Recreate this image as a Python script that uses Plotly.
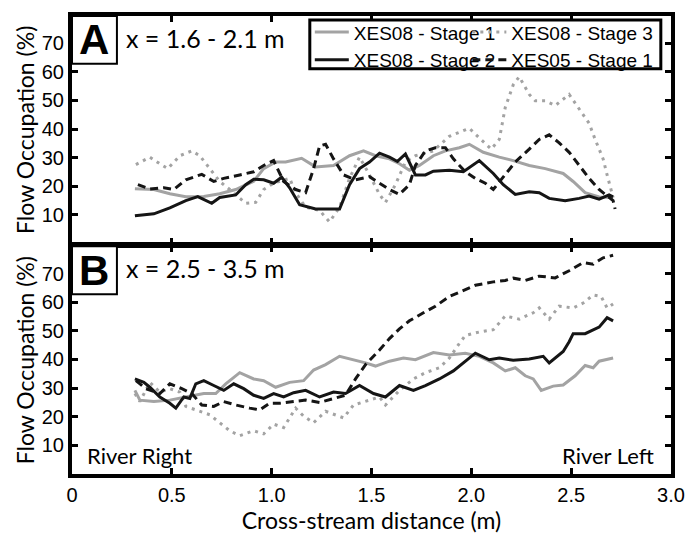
import plotly.graph_objects as go

# ---------------- data ----------------
# Panel A: x = 1.6 - 2.1 m
a_s1_x = [0.315, 0.41, 0.49, 0.57, 0.66, 0.74, 0.82, 0.91, 0.96, 1.02, 1.07, 1.15, 1.22, 1.31, 1.39, 1.46, 1.52, 1.59, 1.64, 1.69, 1.74, 1.81, 1.87, 1.94, 1.99, 2.06, 2.14, 2.21, 2.29, 2.37, 2.46, 2.51, 2.57, 2.64, 2.71]
a_s1_y = [19.2, 18.9, 17.4, 16.4, 16.5, 17.4, 18.9, 21.8, 26.2, 28.5, 28.5, 29.8, 26.8, 27.3, 30.7, 32.4, 30.7, 29.6, 27.9, 25.6, 27.3, 30.7, 32.4, 33.5, 34.7, 31.9, 30.2, 29.0, 27.3, 26.2, 24.5, 21.7, 17.8, 16.3, 16.1]

a_s2_x = [0.315, 0.41, 0.49, 0.57, 0.63, 0.70, 0.74, 0.82, 0.87, 0.91, 0.96, 1.01, 1.05, 1.09, 1.14, 1.19, 1.22, 1.31, 1.34, 1.39, 1.44, 1.49, 1.54, 1.59, 1.63, 1.67, 1.72, 1.77, 1.81, 1.89, 1.96, 2.04, 2.11, 2.16, 2.22, 2.29, 2.34, 2.39, 2.47, 2.54, 2.59, 2.64, 2.69, 2.71]
a_s2_y = [9.7, 10.4, 12.5, 15.0, 16.4, 14.1, 16.1, 17.0, 20.6, 22.5, 22.3, 21.1, 23.2, 19.5, 13.6, 12.7, 12.1, 12.1, 12.1, 20.6, 26.2, 28.5, 31.6, 30.2, 28.7, 31.3, 24.0, 24.0, 25.3, 25.6, 25.1, 29.0, 24.5, 20.6, 17.2, 18.1, 17.8, 15.8, 15.0, 15.8, 16.6, 15.5, 17.0, 16.3]

a_s3_x = [0.32, 0.39, 0.44, 0.48, 0.54, 0.60, 0.64, 0.69, 0.74, 0.79, 0.84, 0.87, 0.92, 0.96, 1.01, 1.09, 1.12, 1.17, 1.24, 1.27, 1.29, 1.34, 1.39, 1.44, 1.49, 1.54, 1.57, 1.62, 1.67, 1.72, 1.81, 1.89, 1.99, 2.04, 2.10, 2.14, 2.17, 2.21, 2.24, 2.29, 2.32, 2.37, 2.42, 2.49, 2.54, 2.59, 2.62, 2.66, 2.68, 2.70, 2.71]
a_s3_y = [27.6, 30.2, 27.9, 26.2, 30.7, 32.4, 30.7, 26.2, 21.7, 18.9, 16.1, 14.1, 14.4, 18.9, 21.1, 22.8, 17.8, 12.7, 11.6, 9.3, 7.6, 12.7, 22.8, 30.2, 24.0, 17.2, 14.4, 20.6, 28.5, 30.7, 32.4, 37.5, 40.3, 36.9, 33.0, 36.4, 47.6, 55.5, 58.3, 52.1, 49.9, 49.9, 48.2, 52.1, 47.1, 42.0, 36.4, 29.6, 24.0, 18.3, 16.1]

a_x05_x = [0.33, 0.39, 0.46, 0.51, 0.57, 0.65, 0.71, 0.76, 0.84, 0.91, 0.96, 1.01, 1.06, 1.12, 1.17, 1.21, 1.24, 1.27, 1.31, 1.36, 1.42, 1.49, 1.54, 1.59, 1.64, 1.69, 1.72, 1.77, 1.82, 1.87, 1.91, 1.97, 2.02, 2.07, 2.11, 2.17, 2.22, 2.29, 2.34, 2.39, 2.44, 2.49, 2.54, 2.59, 2.64, 2.68, 2.71, 2.72]
a_x05_y = [20.6, 19.1, 19.5, 18.9, 22.3, 24.2, 21.7, 22.8, 24.0, 25.1, 27.3, 29.0, 21.7, 18.9, 17.8, 26.2, 34.1, 34.7, 29.6, 24.0, 22.3, 23.4, 21.1, 18.9, 17.2, 20.6, 27.3, 32.4, 33.5, 33.5, 29.6, 25.1, 22.8, 21.1, 18.9, 24.0, 28.5, 33.0, 36.4, 38.0, 35.2, 31.9, 27.3, 22.8, 18.9, 16.7, 15.0, 12.1]

# Panel B: x = 2.5 - 3.5 m
b_s1_x = [0.315, 0.34, 0.41, 0.49, 0.57, 0.66, 0.72, 0.77, 0.84, 0.91, 0.96, 1.02, 1.09, 1.16, 1.21, 1.27, 1.34, 1.41, 1.47, 1.52, 1.59, 1.66, 1.72, 1.81, 1.89, 1.97, 2.04, 2.11, 2.17, 2.22, 2.27, 2.31, 2.35, 2.41, 2.46, 2.52, 2.57, 2.61, 2.64, 2.71]
b_s1_y = [29.2, 25.8, 25.3, 25.8, 26.9, 28.1, 28.1, 31.5, 35.4, 33.2, 32.6, 30.3, 32.0, 32.6, 36.3, 38.2, 41.1, 39.9, 38.8, 37.7, 39.4, 40.5, 39.9, 42.4, 41.6, 42.2, 41.1, 38.8, 36.0, 37.1, 34.3, 33.2, 29.2, 30.7, 31.1, 34.3, 37.9, 37.1, 39.4, 40.5]

b_s2_x = [0.315, 0.36, 0.39, 0.44, 0.49, 0.52, 0.56, 0.59, 0.62, 0.66, 0.71, 0.76, 0.81, 0.86, 0.91, 0.96, 1.01, 1.06, 1.11, 1.17, 1.24, 1.31, 1.37, 1.44, 1.51, 1.57, 1.64, 1.71, 1.77, 1.84, 1.91, 1.97, 2.02, 2.09, 2.14, 2.21, 2.29, 2.36, 2.39, 2.46, 2.49, 2.51, 2.57, 2.64, 2.68, 2.71]
b_s2_y = [33.2, 32.0, 30.3, 26.9, 24.7, 23.0, 26.9, 26.4, 31.5, 32.6, 30.9, 29.2, 31.5, 29.8, 27.5, 26.4, 28.1, 26.9, 28.4, 29.2, 26.9, 28.6, 28.1, 30.9, 28.1, 26.9, 30.9, 29.2, 30.9, 33.2, 36.0, 39.4, 42.2, 39.9, 40.5, 39.7, 40.2, 41.1, 38.8, 42.8, 46.2, 49.0, 49.0, 51.3, 54.6, 53.5]

b_s3_x = [0.315, 0.34, 0.39, 0.44, 0.49, 0.54, 0.57, 0.62, 0.69, 0.74, 0.79, 0.84, 0.91, 0.96, 1.01, 1.06, 1.09, 1.12, 1.16, 1.21, 1.27, 1.32, 1.36, 1.41, 1.47, 1.54, 1.57, 1.64, 1.71, 1.77, 1.84, 1.89, 1.94, 1.97, 2.04, 2.11, 2.17, 2.24, 2.31, 2.34, 2.39, 2.44, 2.51, 2.56, 2.61, 2.65, 2.68, 2.71]
b_s3_y = [28.1, 25.3, 32.0, 28.6, 29.8, 28.6, 23.6, 22.4, 20.7, 17.9, 15.1, 13.4, 15.1, 14.0, 17.4, 16.2, 19.6, 23.0, 20.2, 17.9, 21.9, 20.7, 19.6, 24.1, 25.3, 26.9, 24.1, 29.2, 33.2, 35.4, 37.1, 40.5, 45.6, 48.4, 49.6, 50.4, 55.2, 54.1, 56.3, 58.0, 54.1, 58.6, 58.0, 59.7, 62.5, 62.0, 58.0, 59.4]

b_x05_x = [0.32, 0.37, 0.44, 0.49, 0.55, 0.60, 0.65, 0.71, 0.76, 0.82, 0.89, 0.94, 0.99, 1.04, 1.11, 1.17, 1.24, 1.31, 1.37, 1.42, 1.47, 1.54, 1.59, 1.64, 1.69, 1.76, 1.82, 1.89, 1.96, 2.02, 2.11, 2.17, 2.21, 2.27, 2.34, 2.42, 2.49, 2.56, 2.61, 2.66, 2.71]
b_x05_y = [32.6, 29.8, 28.1, 31.5, 29.8, 28.1, 24.1, 23.6, 25.3, 24.1, 23.0, 22.4, 24.7, 24.7, 25.3, 25.8, 25.0, 26.4, 27.5, 33.2, 38.2, 43.3, 47.3, 50.7, 53.5, 56.3, 58.6, 62.0, 64.2, 65.9, 67.1, 67.6, 68.4, 67.6, 69.1, 68.5, 71.0, 73.8, 73.3, 75.5, 76.4]

series_names = ["XES08 - Stage 1", "XES08 - Stage 2", "XES08 - Stage 3", "XES05 - Stage 1"]
x_tick_vals = [0, 0.5, 1.0, 1.5, 2.0, 2.5, 3.0]
x_tick_text = ["0", "0.5", "1.0", "1.5", "2.0", "2.5", "3.0"]
y_tick_vals = [10, 20, 30, 40, 50, 60, 70]
panel_labels = ["A", "B"]
panel_ranges = ["x = 1.6 - 2.1 m", "x = 2.5 - 3.5 m"]

# ---------------- styles ----------------
GRAY = "#a3a3a3"
BLACK = "#151515"
styles = {
    "XES08 - Stage 1": dict(color=GRAY, width=3, dash="solid"),
    "XES08 - Stage 3": dict(color=GRAY, width=3, dash="3px,5px"),
    "XES08 - Stage 2": dict(color=BLACK, width=3, dash="solid"),
    "XES05 - Stage 1": dict(color=BLACK, width=3, dash="8px,5px"),
}
legend_of = {
    "XES08 - Stage 1": "legend",
    "XES08 - Stage 2": "legend",
    "XES08 - Stage 3": "legend2",
    "XES05 - Stage 1": "legend2",
}

panelA = {
    "XES08 - Stage 1": (a_s1_x, a_s1_y),
    "XES08 - Stage 3": (a_s3_x, a_s3_y),
    "XES08 - Stage 2": (a_s2_x, a_s2_y),
    "XES05 - Stage 1": (a_x05_x, a_x05_y),
}
panelB = {
    "XES08 - Stage 1": (b_s1_x, b_s1_y),
    "XES08 - Stage 3": (b_s3_x, b_s3_y),
    "XES08 - Stage 2": (b_s2_x, b_s2_y),
    "XES05 - Stage 1": (b_x05_x, b_x05_y),
}

fig = go.Figure()
draw_order = ["XES08 - Stage 3", "XES08 - Stage 1", "XES05 - Stage 1", "XES08 - Stage 2"]
for name in draw_order:
    x, y = panelA[name]
    fig.add_trace(go.Scatter(x=x, y=y, mode="lines", name=name, line=styles[name],
                             xaxis="x2", yaxis="y2", showlegend=True,
                             legend=legend_of[name],
                             legendrank=series_names.index(name) + 1))
for name in draw_order:
    x, y = panelB[name]
    fig.add_trace(go.Scatter(x=x, y=y, mode="lines", name=name, line=styles[name],
                             xaxis="x", yaxis="y", showlegend=False))

TICKFONT = dict(family="Liberation Sans, Arial", size=20, color="black")
TITLEFONT = dict(family="Lato, Open Sans", size=23, color="black")
LEGFONT = dict(family="Liberation Sans, Arial", size=19, color="black")

axis_common = dict(showline=True, linewidth=4, linecolor="black", mirror="ticks",
                   ticks="inside", ticklen=6, tickwidth=3, tickcolor="black",
                   showgrid=False, zeroline=False)

leg_common = dict(orientation="v", yanchor="top", xanchor="left", xref="paper", yref="paper",
                  bgcolor="rgba(0,0,0,0)", borderwidth=0, font=LEGFONT,
                  traceorder="normal", itemwidth=34, tracegroupgap=0)

fig.update_layout(
    width=697, height=538,
    margin=dict(l=72, r=25, t=13, b=55),
    paper_bgcolor="white", plot_bgcolor="white",
    xaxis=dict(domain=[0, 1], range=[0, 3], tickvals=x_tick_vals, ticktext=x_tick_text,
               tickfont=TICKFONT, anchor="y",
               title=dict(text="Cross-stream distance (m)", font=TITLEFONT, standoff=4),
               **axis_common),
    xaxis2=dict(domain=[0, 1], range=[0, 3], tickvals=x_tick_vals, showticklabels=False,
                anchor="y2", matches="x", **axis_common),
    yaxis=dict(domain=[0, 0.497], range=[0, 79.5], tickvals=y_tick_vals, tickfont=TICKFONT,
               anchor="x", ticklabelstandoff=0,
               title=dict(text="Flow Occupation (%)", font=TITLEFONT, standoff=2),
               **axis_common),
    yaxis2=dict(domain=[0.503, 1], range=[0, 79.5], tickvals=y_tick_vals, tickfont=TICKFONT,
                anchor="x2", ticklabelstandoff=0,
                title=dict(text="Flow Occupation (%)", font=TITLEFONT, standoff=2),
                **axis_common),
    legend=dict(x=0.397, y=1.006, **leg_common),
    legend2=dict(x=0.66, y=1.006, **leg_common),
    showlegend=True,
)

# legend frame
fig.add_shape(type="rect", xref="paper", yref="paper", x0=0.397, x1=0.983, y0=0.885, y1=0.991,
              line=dict(color="black", width=3), fillcolor="white", layer="above")

for lab, rng, xa, ya in [(panel_labels[0], panel_ranges[0], "x2", "y2"),
                         (panel_labels[1], panel_ranges[1], "x", "y")]:
    fig.add_shape(type="rect", xref=f"{xa} domain", yref=f"{ya} domain",
                  x0=0, x1=0.075, y0=0.79, y1=1.0,
                  line=dict(color="black", width=2), fillcolor="white")
    fig.add_annotation(xref=f"{xa} domain", yref=f"{ya} domain", x=0.0375, y=0.895,
                       text=f"<b>{lab}</b>", showarrow=False, xanchor="center", yanchor="middle",
                       font=dict(family="Liberation Sans, Arial", size=42, color="black"))
    fig.add_annotation(xref=f"{xa} domain", yref=f"{ya} domain", x=0.087, y=0.905,
                       text=rng, showarrow=False, xanchor="left", yanchor="middle",
                       font=dict(family="Lato, Open Sans", size=25, color="black"))

fig.add_annotation(xref="x domain", yref="y domain", x=0.022, y=0.08,
                   text="River Right", showarrow=False, xanchor="left", yanchor="middle",
                   font=dict(family="Lato, Open Sans", size=22, color="black"))
fig.add_annotation(xref="x domain", yref="y domain", x=0.975, y=0.08,
                   text="River Left", showarrow=False, xanchor="right", yanchor="middle",
                   font=dict(family="Lato, Open Sans", size=22, color="black"))

fig.write_html("out.html")
